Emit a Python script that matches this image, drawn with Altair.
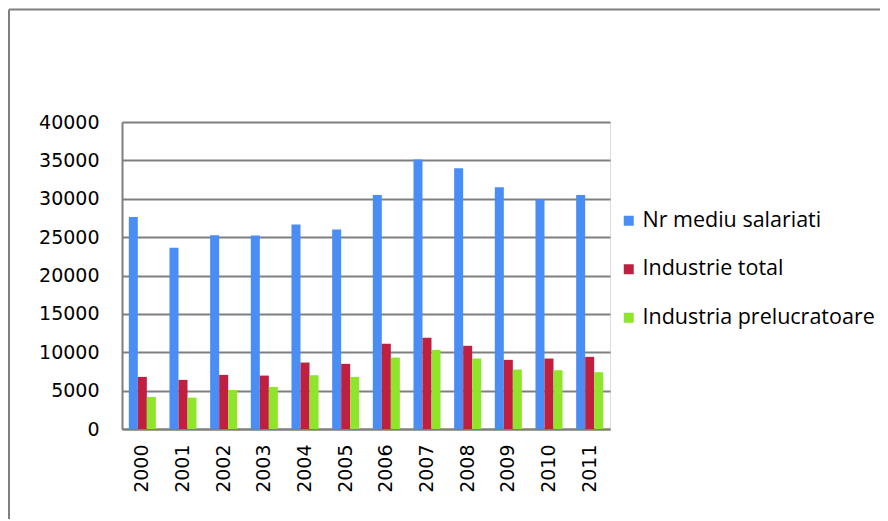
import altair as alt
import pandas as pd

years = ["2000", "2001", "2002", "2003", "2004", "2005", "2006", "2007", "2008", "2009", "2010", "2011"]
nr_mediu = [27630, 23630, 25240, 25200, 26630, 25980, 30500, 35120, 33990, 31510, 29900, 30500]
industrie_total = [6790, 6400, 7050, 6960, 8660, 8490, 11100, 11880, 10840, 9010, 9180, 9400]
industria_prel = [4180, 4090, 5090, 5480, 7010, 6790, 9310, 10310, 9180, 7750, 7660, 7400]
series = ["Nr mediu salariati", "Industrie total", "Industria prelucratoare"]
colors = ["#4a8ef5", "#c02040", "#8ee52b"]

rows = []
for i, y in enumerate(years):
    for s, vals in zip(series, [nr_mediu, industrie_total, industria_prel]):
        rows.append({"year": y, "series": s, "value": vals[i]})
df = pd.DataFrame(rows)

bars = alt.Chart(df).mark_bar().encode(
    x=alt.X("year:N", sort=years,
            scale=alt.Scale(paddingInner=0.335, paddingOuter=0.1675),
            axis=alt.Axis(title=None, labelAngle=-90, labelFont="DejaVu Sans",
                          labelFontSize=19, labelColor="#000000", ticks=False,
                          labelPadding=15, domainColor="#7f7f7f", domainWidth=2,
                          grid=False)),
    xOffset=alt.XOffset("series:N", sort=series),
    y=alt.Y("value:Q", scale=alt.Scale(domain=[0, 40000], nice=False),
            axis=alt.Axis(title=None, values=list(range(0, 40001, 5000)), format="d",
                          labelFont="DejaVu Sans", labelFontSize=19,
                          labelColor="#000000", ticks=False, labelPadding=23,
                          domainColor="#7f7f7f", domainWidth=2,
                          gridColor="#7f7f7f", gridWidth=2)),
    color=alt.Color("series:N", sort=series,
                    scale=alt.Scale(domain=series, range=colors),
                    legend=alt.Legend(title=None, orient="none", legendX=496, legendY=88,
                                      symbolType="square", symbolSize=100,
                                      symbolStrokeWidth=0, labelFont="Open Sans",
                                      labelFontSize=21.5, labelColor="#000000",
                                      rowPadding=25.5, labelOffset=3, labelLimit=400)),
)

frame_df = pd.DataFrame({"k": [0]})
top_line = alt.Chart(frame_df).mark_rule(color="#7f7f7f", strokeWidth=2).encode(
    x=alt.value(-113), x2=alt.value(900), y=alt.value(-112.5))
left_line = alt.Chart(frame_df).mark_rule(color="#7f7f7f", strokeWidth=2).encode(
    x=alt.value(-113), y=alt.value(-112.5), y2=alt.value(500))

chart = alt.layer(bars, top_line, left_line).properties(
    width=488, height=307,
    autosize=alt.AutoSizeParams(type="none"),
    padding={"left": 114, "top": 114, "right": 270, "bottom": 90},
).configure_view(stroke=None).configure(background="white")

chart.save("out.html", embed_options={"renderer": "svg", "actions": False})
